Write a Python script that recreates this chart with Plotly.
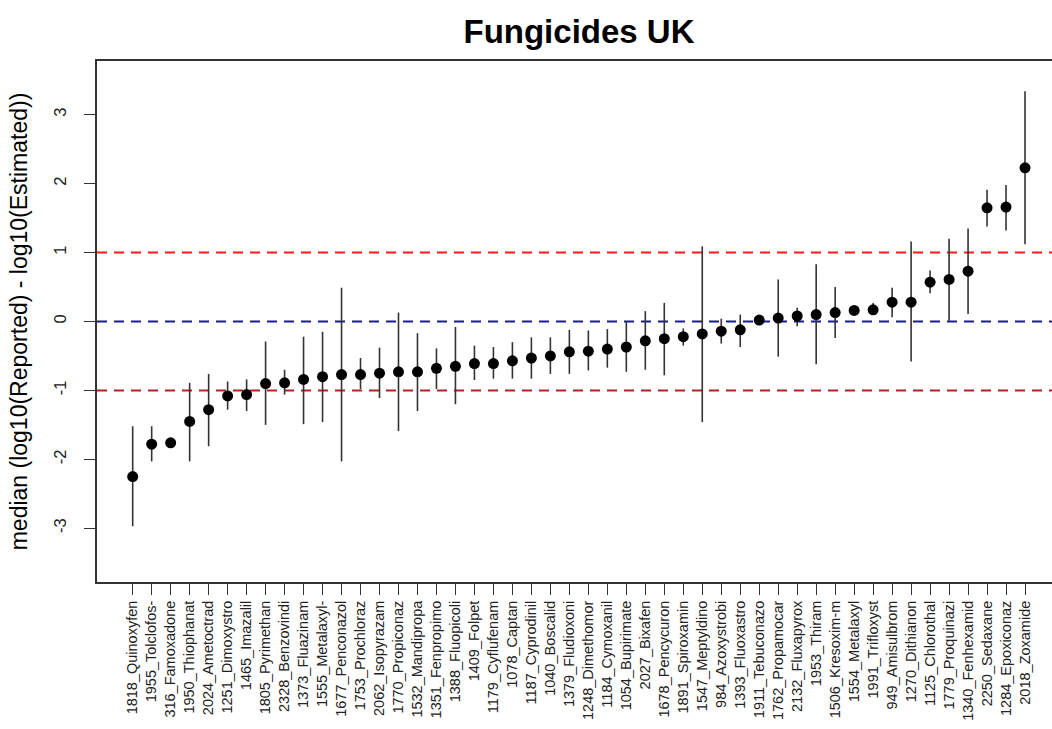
import plotly.graph_objects as go

# Compounds, ordered by median log-ratio
compounds = [
    "1818_Quinoxyfen", "1955_Tolclofos-", "316_Famoxadone", "1950_Thiophanat",
    "2024_Ametoctrad", "1251_Dimoxystro", "1465_Imazalil", "1805_Pyrimethan",
    "2328_Benzovindi", "1373_Fluazinam", "1555_Metalaxyl-", "1677_Penconazol",
    "1753_Prochloraz", "2062_Isopyrazam", "1770_Propiconaz", "1532_Mandipropa",
    "1351_Fenpropimo", "1388_Fluopicoli", "1409_Folpet", "1179_Cyflufenam",
    "1078_Captan", "1187_Cyprodinil", "1040_Boscalid", "1379_Fludioxoni",
    "1248_Dimethomor", "1184_Cymoxanil", "1054_Bupirimate", "2027_Bixafen",
    "1678_Pencycuron", "1891_Spiroxamin", "1547_Meptyldino", "984_Azoxystrobi",
    "1393_Fluoxastro", "1911_Tebuconazo", "1762_Propamocar", "2132_Fluxapyrox",
    "1953_Thiram", "1506_Kresoxim-m", "1554_Metalaxyl", "1991_Trifloxyst",
    "949_Amisulbrom", "1270_Dithianon", "1125_Chlorothal", "1779_Proquinazi",
    "1340_Fenhexamid", "2250_Sedaxane", "1284_Epoxiconaz", "2018_Zoxamide",
]

# median of log10(Reported) - log10(Estimated)
median_diff = [
    -2.25, -1.78, -1.76, -1.45, -1.28, -1.08, -1.06, -0.90,
    -0.89, -0.84, -0.80, -0.77, -0.77, -0.75, -0.73, -0.73,
    -0.68, -0.65, -0.61, -0.61, -0.57, -0.53, -0.50, -0.44,
    -0.43, -0.40, -0.37, -0.28, -0.25, -0.22, -0.18, -0.14,
    -0.12, 0.02, 0.05, 0.08, 0.10, 0.13, 0.16, 0.17,
    0.28, 0.28, 0.57, 0.61, 0.73, 1.65, 1.66, 2.23,
]

# lower and upper ends of the spread around each median
lower = [
    -2.97, -2.03, -1.76, -2.03, -1.81, -1.28, -1.30, -1.50,
    -1.06, -1.49, -1.46, -2.03, -0.98, -1.11, -1.59, -1.30,
    -0.98, -1.20, -0.85, -0.83, -0.83, -0.83, -0.76, -0.76,
    -0.71, -0.67, -0.73, -0.70, -0.78, -0.35, -1.46, -0.32,
    -0.37, 0.02, -0.51, -0.07, -0.62, -0.24, 0.16, 0.15,
    0.06, -0.58, 0.41, 0.01, 0.11, 1.38, 1.32, 1.12,
]
upper = [
    -1.52, -1.52, -1.76, -0.89, -0.76, -0.87, -0.84, -0.29,
    -0.70, -0.22, -0.15, 0.49, -0.53, -0.38, 0.13, -0.17,
    -0.39, -0.08, -0.35, -0.37, -0.30, -0.23, -0.23, -0.12,
    -0.13, -0.11, 0.00, 0.15, 0.27, -0.10, 1.09, 0.04,
    0.10, 0.02, 0.61, 0.20, 0.83, 0.50, 0.16, 0.27,
    0.49, 1.16, 0.74, 1.20, 1.35, 1.91, 1.98, 3.34,
]

y_ticks = [-3, -2, -1, 0, 1, 2, 3]

# reference lines: y value and colour
ref_levels = [1, 0, -1]
ref_colors = ["#ff1a1a", "#1a1a99", "#b22222"]

x = list(range(1, len(compounds) + 1))
err_plus = [u - m for u, m in zip(upper, median_diff)]
err_minus = [m - l for m, l in zip(median_diff, lower)]

FONT = "Liberation Sans, Arial, sans-serif"

fig = go.Figure()
fig.add_trace(go.Scatter(
    x=x, y=median_diff, mode="markers",
    marker=dict(color="black", size=11),
    error_y=dict(type="data", symmetric=False, array=err_plus,
                 arrayminus=err_minus, width=0, thickness=1.6,
                 color="#333333"),
    showlegend=False, cliponaxis=False,
))

n = len(compounds)
pad = 0.04 * (n - 1)

shapes = []
for lvl, col in zip(ref_levels, ref_colors):
    shapes.append(dict(type="line", xref="paper", x0=0, x1=1, yref="y",
                       y0=lvl, y1=lvl, layer="below",
                       line=dict(color=col, width=2, dash="10px,7px")))

fig.update_layout(
    width=1052, height=729,
    margin=dict(l=97, r=0, t=61, b=147),
    paper_bgcolor="white", plot_bgcolor="white",
    font=dict(family=FONT, color="black"),
    title=dict(text="Fungicides UK", x=579 / 1052, xanchor="center",
               y=1 - 31 / 729, yanchor="middle",
               font=dict(family=FONT, size=33, weight="bold", color="black")),
    shapes=shapes,
    xaxis=dict(
        range=[1 - pad, n + (1052 - 1025) / 19.0],
        tickmode="array", tickvals=x, ticktext=compounds,
        tickangle=-90, tickfont=dict(size=14.5, color="#222222"),
        ticks="outside", ticklen=11, tickwidth=1.3, tickcolor="#333333",
        showline=True, linecolor="#333333", linewidth=1.8, mirror=True,
        showgrid=False, zeroline=False,
    ),
    yaxis=dict(
        range=[-3.78, 3.78],
        tickmode="array", tickvals=y_ticks, ticktext=[str(t) for t in y_ticks],
        tickangle=-90, tickfont=dict(size=16.5, color="#222222"),
        ticks="outside", ticklen=11, tickwidth=1.3, tickcolor="#333333",
        ticklabelstandoff=12,
        showline=True, linecolor="#333333", linewidth=1.8, mirror=False,
        showgrid=False, zeroline=False,
        title=dict(text="median (log10(Reported) - log10(Estimated))",
                   font=dict(size=23, color="black"), standoff=16),
    ),
)

fig.write_html("out.html")
